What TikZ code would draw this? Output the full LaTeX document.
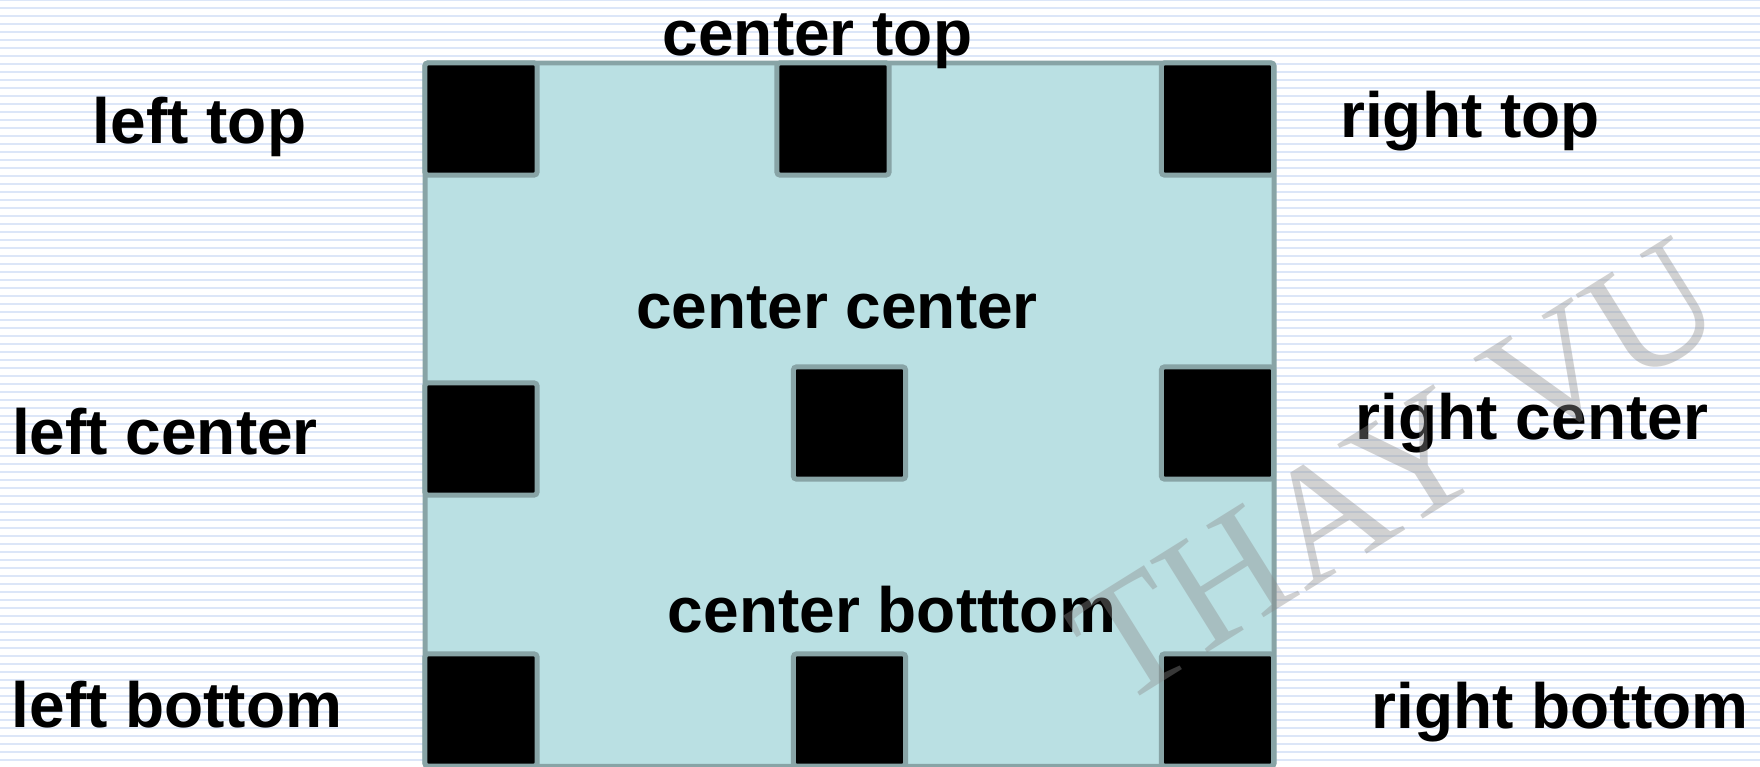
\documentclass[tikz,border=0pt]{standalone}
\usepackage{fontspec}
\setmainfont{Liberation Sans}
\newfontfamily\wmfont{Liberation Serif}
\usetikzlibrary{positioning}
\definecolor{panel}{HTML}{BAE0E3}
\definecolor{edge}{HTML}{88A4A6}
\definecolor{ruled}{HTML}{DCE6F8}
\tikzset{
  sq/.style={draw=edge, fill=black, line width=1.42pt, rounded corners=0.8pt, minimum size=1.12cm, inner sep=0pt, outer sep=0pt},
  lbl/.style={anchor=base, inner sep=0pt, font=\fontsize{18.2}{22}\selectfont\bfseries},
  rulel/.style={ruled, line width=0.02cm},
}
\begin{document}
\begin{tikzpicture}[x=0.01cm,y=0.01cm]
  \useasboundingbox (0,0) rectangle (1760,766);
  \clip (0,0) rectangle (1760,766);
  \fill[white] (0,0) rectangle (1760,766);
  \foreach \k in {0,...,95}
    \draw[rulel] (0,{766-8*\k}) -- (1760,{766-8*\k});
  % container and the nine squares
  \node[draw=edge, fill=panel, line width=1.42pt, rounded corners=0.8pt, minimum width=8.485cm, minimum height=7.03cm, inner sep=0pt, outer sep=0pt, anchor=north west] (box) at (425,703) {};
  \foreach \n/\x/\y in {lt/481/647, ct/833/647, rt/1217.5/647, lc/481/327, cc/849.5/343, rc/1217.5/343, lb/481/56, cb/849.5/56, rb/1217.5/56}
    \node[sq] (\n) at (\x,\y) {};
  % labels
  \node[lbl] (tlt) at (199.5,622) {left top};
  \node[lbl] (tct) at (817.5,710) {center top};
  \node[lbl] (trt) at (1470,628) {right top};
  \node[lbl] (tlc) at (165,312) {left center};
  \node[lbl] (tcc) at (837,438) {center center};
  \node[lbl] (trc) at (1532,327) {right center};
  \node[lbl] (tlb) at (177,39) {left bottom};
  \node[lbl] (tcb) at (892,134) {center botttom};
  \node[lbl] (trb) at (1560,38) {right bottom};
  \node[font=\wmfont\fontsize{47}{54}\selectfont, text=black!45, text opacity=0.4, rotate=32] (mark) at (1397,294) {THAY VU};
\end{tikzpicture}
\end{document}
